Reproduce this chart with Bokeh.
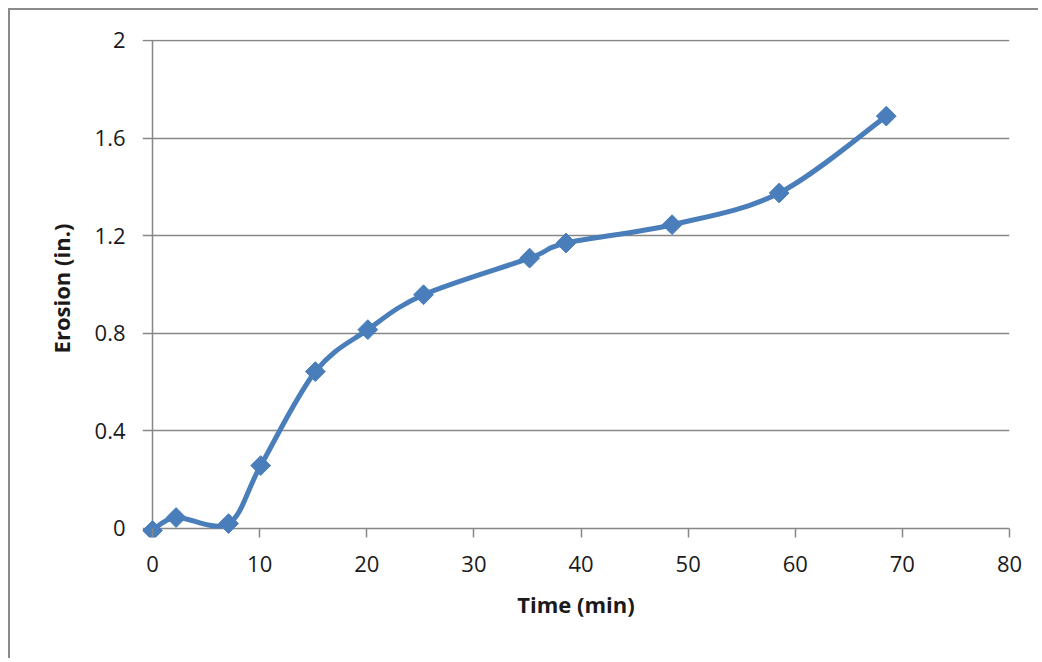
import math
from bokeh.plotting import figure
from bokeh.models import Range1d, FixedTicker
from bokeh.embed import file_html
from bokeh.resources import INLINE

time_min = [0, 2.2, 7.1, 10.1, 15.2, 20.1, 25.3, 35.2, 38.6, 48.5, 58.5, 68.5]
erosion_in = [-0.008, 0.045, 0.02, 0.258, 0.643, 0.815, 0.958, 1.108, 1.17, 1.245, 1.375, 1.69]
x_ticks = [0, 10, 20, 30, 40, 50, 60, 70, 80]
y_ticks = [0, 0.4, 0.8, 1.2, 1.6, 2.0]
y_tick_labels = ["0", "0.4", "0.8", "1.2", "1.6", "2"]

SERIES = "#4A7EBB"
GRID = "#878787"
FONT = "Open Sans"

# frame extends 10px left of x=0 and 9px below y=0 so that the y tick marks
# and the x tick marks sit inside it, and the first marker is not clipped
p = figure(width=1030, height=650, output_backend="svg", toolbar_location=None,
           x_range=Range1d(-0.934, 80), y_range=Range1d(-0.0369, 2.004),
           min_border_left=132, min_border_right=31, min_border_top=29, min_border_bottom=123)
p.outline_line_color = None
p.styles = {"margin-left": "8px", "margin-top": "8px",
            "border-left": "2px solid #8a8a8a", "border-top": "2px solid #8a8a8a"}

# horizontal gridlines (also serve as y tick marks and the x axis line)
p.xgrid.grid_line_color = None
p.ygrid.grid_line_color = GRID
p.ygrid.grid_line_width = 1.5
p.ygrid.ticker = FixedTicker(ticks=y_ticks)

# vertical axis line at x = 0
p.segment(x0=[x_ticks[0]], y0=[y_ticks[0]], x1=[x_ticks[0]], y1=[y_ticks[-1]],
          line_color=GRID, line_width=1.5)

p.xaxis.ticker = FixedTicker(ticks=x_ticks)
p.yaxis.ticker = FixedTicker(ticks=y_ticks)
p.yaxis.major_label_overrides = {t: l for t, l in zip(y_ticks, y_tick_labels)}
for ax in (p.xaxis, p.yaxis):
    ax.axis_line_color = None
    ax.major_tick_line_color = GRID
    ax.major_tick_line_width = 1.5
    ax.major_tick_out = 0
    ax.minor_tick_line_color = None
    ax.major_label_text_font = FONT
    ax.major_label_text_font_size = "22px"
    ax.major_label_text_color = "#1a1a1a"
    ax.axis_label_text_font = FONT
    ax.axis_label_text_font_size = "22px"
    ax.axis_label_text_font_style = "bold"
    ax.axis_label_text_color = "#1a1a1a"
p.xaxis.major_tick_in = 9
p.yaxis.major_tick_in = 0
p.yaxis.major_tick_line_color = None
p.xaxis.axis_label = "Time (min)"
p.yaxis.axis_label = "Erosion (in.)"
p.xaxis.major_label_standoff = 18
p.yaxis.major_label_standoff = 17
p.xaxis.axis_label_standoff = 14
p.yaxis.axis_label_standoff = 16

# smoothed line (Excel-style) via cardinal bezier segments
n = len(time_min)
x0, y0, x1, y1, cx0, cy0, cx1, cy1 = [], [], [], [], [], [], [], []
for i in range(n - 1):
    pm = max(i - 1, 0)
    pp = min(i + 2, n - 1)
    x0.append(time_min[i]); y0.append(erosion_in[i])
    x1.append(time_min[i + 1]); y1.append(erosion_in[i + 1])
    cx0.append(time_min[i] + (time_min[i + 1] - time_min[pm]) / 6)
    cy0.append(erosion_in[i] + (erosion_in[i + 1] - erosion_in[pm]) / 6)
    cx1.append(time_min[i + 1] - (time_min[pp] - time_min[i]) / 6)
    cy1.append(erosion_in[i + 1] - (erosion_in[pp] - erosion_in[i]) / 6)
p.bezier(x0=x0, y0=y0, x1=x1, y1=y1, cx0=cx0, cy0=cy0, cx1=cx1, cy1=cy1,
         line_color=SERIES, line_width=5)
p.scatter(time_min, erosion_in, marker="square", angle=math.pi / 4, size=14,
          fill_color=SERIES, line_color=SERIES)

open("out.html", "w").write(file_html(p, INLINE))
